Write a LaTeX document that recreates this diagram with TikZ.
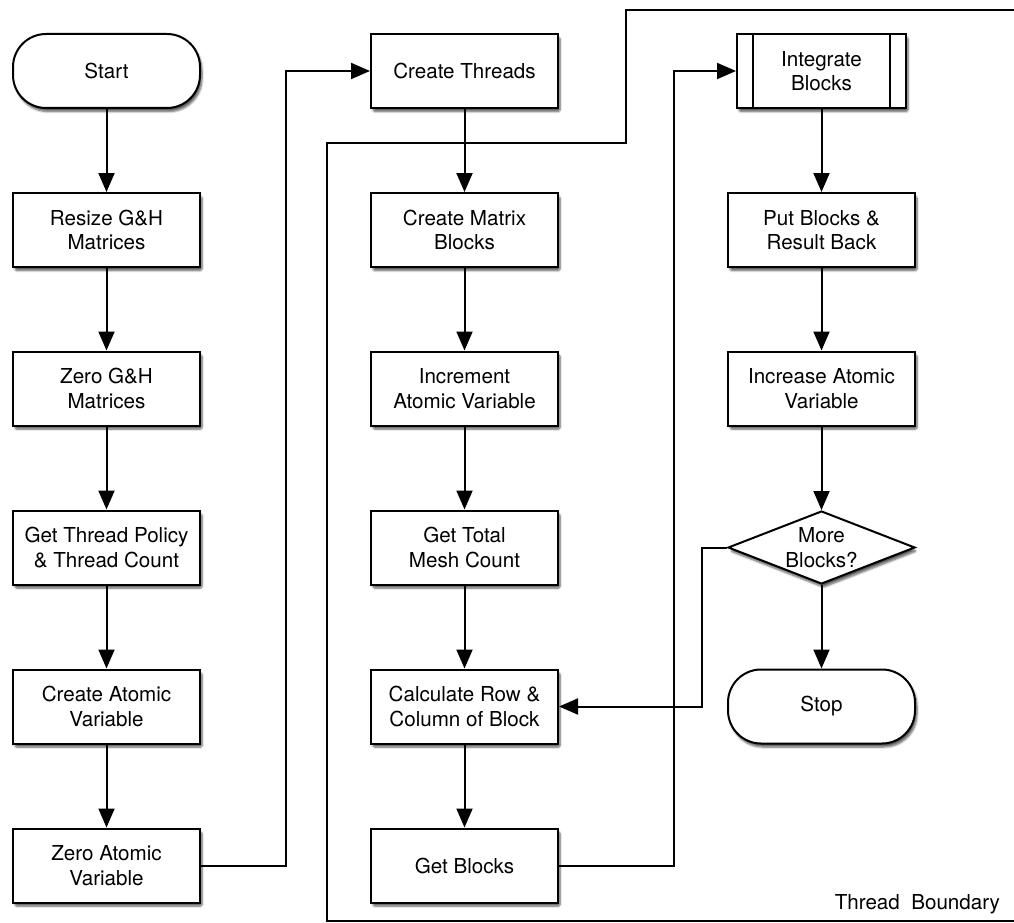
\documentclass[tikz,border=0pt]{standalone}
\usepackage{fontspec}
\setmainfont{TeX Gyre Heros}
\usetikzlibrary{arrows.meta,shapes.geometric,shadows.blur}
\begin{document}
\begin{tikzpicture}[x=1pt,y=-1pt,
  line width=2pt,
  txt/.style={font=\fontsize{20.6}{24.5}\selectfont},
  base/.style={draw, fill=white, align=center, inner sep=0pt, txt,
     blur shadow={shadow xshift=2pt, shadow yshift=-3.5pt, shadow blur steps=6,
                  shadow opacity=65, shadow blur extra rounding=1.5pt}},
  proc/.style={base, rectangle, minimum width=187pt, minimum height=74pt},
  term/.style={proc, rounded corners=33pt},
  subproc/.style={proc, minimum width=169pt},
  decision/.style={base, diamond, minimum width=187pt, minimum height=73pt, aspect=2.56},
  flow/.style={-{Triangle[length=19pt,width=16pt]}, line width=2pt},
  border/.style={line width=2pt}
]
\useasboundingbox (0,0) rectangle (1014,923);

% thread boundary frame (runs off the right edge)
\draw[border] (1016,10) -- (626,10) -- (626,143) -- (327,143) -- (327,921) -- (1016,921);

% left column
\node[term] (start)  at (106.5,71)    {Start};
\node[proc] (resize) at (106.5,230)   {Resize G\&H\\Matrices};
\node[proc] (zgh)    at (106.5,388.5) {Zero G\&H\\Matrices};
\node[proc] (policy) at (106.5,547.5) {Get Thread Policy\\\& Thread Count};
\node[proc] (catom)  at (106.5,706.5) {Create Atomic\\Variable};
\node[proc] (zatom)  at (106.5,865.5) {Zero Atomic\\Variable};

% middle column
\node[proc] (threads) at (464.5,71)    {Create Threads};
\node[proc] (matrix)  at (464.5,230)   {Create Matrix\\Blocks};
\node[proc] (incr)    at (464.5,388.5) {Increment\\Atomic Variable};
\node[proc] (mesh)    at (464.5,547.5) {Get Total\\Mesh Count};
\node[proc] (calc)    at (464.5,706.5) {Calculate Row \&\\Column of Block};
\node[proc] (getb)    at (464.5,865.5) {Get Blocks};

% right column
\node[subproc] (integ)   at (821.5,71)    {Integrate\\Blocks};
\draw ([xshift=17pt]integ.north west) -- ([xshift=17pt]integ.south west);
\draw ([xshift=-17pt]integ.north east) -- ([xshift=-17pt]integ.south east);
\node[proc] (put)     at (821.5,230)   {Put Blocks \&\\Result Back};
\node[proc] (incatom) at (821.5,388.5) {Increase Atomic\\Variable};
\node[decision, label={[txt, align=center]center:More\\Blocks?}] (dec) at (821.5,547.5) {};
\node[term] (stop)    at (821.5,706.5) {Stop};

\node[txt, anchor=base east, inner sep=0pt] (tb) at (1001,909) {Thread\ \ Boundary};

% connectors
\draw[flow] (start) -- (resize);
\draw[flow] (resize) -- (zgh);
\draw[flow] (zgh) -- (policy);
\draw[flow] (policy) -- (catom);
\draw[flow] (catom) -- (zatom);
\draw[flow] (zatom.east) -- ++(85,0) |- (threads.west);

\draw[flow] (threads) -- (matrix);
\draw[flow] (matrix) -- (incr);
\draw[flow] (incr) -- (mesh);
\draw[flow] (mesh) -- (calc);
\draw[flow] (calc) -- (getb);
\draw[flow] (getb.east) -- ++(115,0) |- (integ.west);

\draw[flow] (integ) -- (put);
\draw[flow] (put) -- (incatom);
\draw[flow] (incatom) -- (dec);
\draw[flow] (dec) -- (stop);
\draw[flow] (dec.west) -- ++(-25,0) |- (calc.east);
\end{tikzpicture}
\end{document}
